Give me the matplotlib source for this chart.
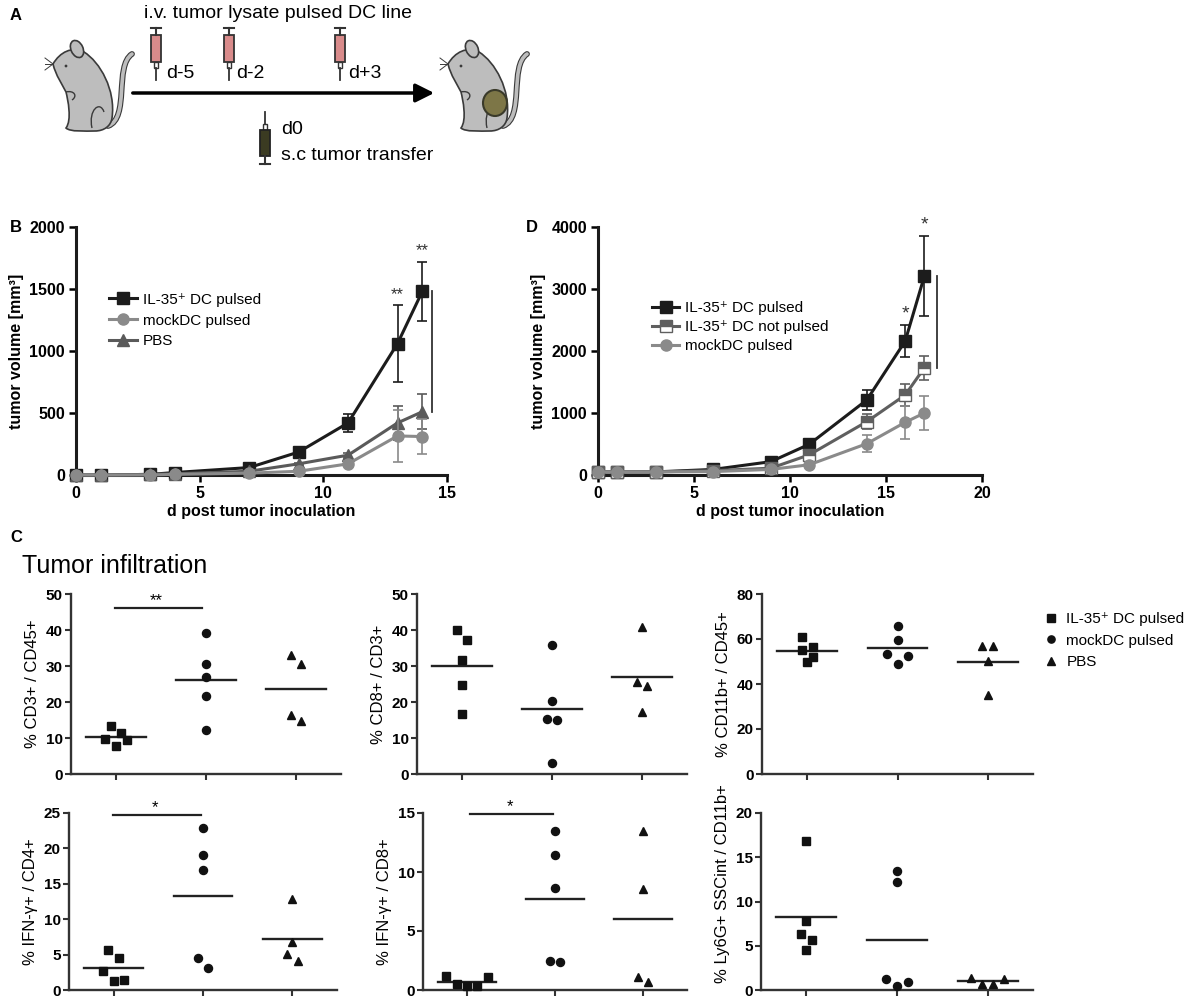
import numpy as np
import matplotlib
matplotlib.use("Agg")
import matplotlib.pyplot as plt
from matplotlib.patches import Ellipse, Rectangle, PathPatch, Circle
from matplotlib.path import Path
from matplotlib.lines import Line2D

plt.rcParams['font.family'] = ['Liberation Sans', 'DejaVu Sans']

# ---- data: panel B (tumor volume, mm3) ----
days_b = [0, 1, 3, 4, 7, 9, 11, 13, 14]
b_il35 = [0, 0, 5, 20, 60, 185, 420, 1060, 1480]
b_il35_err = [0, 0, 0, 5, 10, 20, 70, 310, 240]
b_mock = [0, 0, 0, 5, 15, 30, 90, 315, 310]
b_mock_err = [0, 0, 0, 0, 5, 10, 20, 210, 140]
b_pbs = [0, 0, 5, 10, 30, 90, 160, 420, 510]
b_pbs_err = [0, 0, 0, 0, 5, 10, 20, 137, 143]

# ---- data: panel D ----
days_d = [0, 1, 3, 6, 9, 11, 14, 16, 17]
d_il35 = [50, 50, 50, 90, 215, 495, 1210, 2160, 3210]
d_il35_err = [0, 0, 0, 10, 20, 50, 160, 260, 650]
d_notp = [50, 50, 50, 70, 110, 325, 860, 1290, 1730]
d_notp_err = [0, 0, 0, 5, 10, 30, 120, 180, 195]
d_mock = [50, 50, 50, 55, 90, 165, 505, 850, 1000]
d_mock_err = [0, 0, 0, 5, 10, 20, 135, 270, 280]

# ---- data: panel C (IL-35+ DC pulsed, mockDC pulsed, PBS) ----
groups = ['IL-35\u207a DC pulsed', 'mockDC pulsed', 'PBS']
cd3_cd45 = [[13.2, 11.3, 9.6, 9.5, 7.8], [39.2, 30.5, 26.9, 21.6, 12.3], [33.0, 30.5, 16.5, 14.6]]
cd8_cd3 = [[39.9, 37.3, 31.6, 24.7, 16.6], [35.9, 20.2, 15.3, 15.1, 3.1], [40.8, 25.5, 24.5, 17.2]]
cd11b_cd45 = [[60.7, 56.3, 55.3, 52.0, 49.6], [65.9, 59.7, 53.3, 52.3, 48.7], [56.7, 56.7, 50.1, 35.3]]
ifng_cd4 = [[5.6, 4.5, 2.7, 1.4, 1.3], [22.9, 19.0, 17.0, 4.5, 3.1], [12.9, 6.8, 5.1, 4.1]]
ifng_cd8 = [[1.2, 1.1, 0.55, 0.35, 0.35], [13.5, 11.4, 8.65, 2.5, 2.4], [13.5, 8.6, 1.1, 0.7]]
ly6g_cd11b = [[16.8, 7.8, 6.3, 5.7, 4.5], [13.5, 12.2, 1.2, 0.9, 0.4], [1.4, 1.2, 0.66, 0.66]]

W, H = 1192, 998
fig = plt.figure(figsize=(W / 100, H / 100), dpi=100)


def ax_px(l, t, r, b):
    return fig.add_axes([l / W, 1 - b / H, (r - l) / W, (b - t) / H])


# ================= panel A (schematic) =================
axA = ax_px(0, 0, 560, 190)
axA.set_xlim(0, 560)
axA.set_ylim(190, 0)
axA.axis('off')

MOUSE_FC = '#bdbdbd'
MOUSE_EC = '#3a3a3a'


def draw_mouse(ax, dx, tumor=False):
    # tail
    tail = [(108 + dx, 126), (130 + dx, 118), (114 + dx, 66), (132 + dx, 54)]
    tp = Path(tail, [Path.MOVETO, Path.CURVE4, Path.CURVE4, Path.CURVE4])
    ax.add_patch(PathPatch(tp, fill=False, lw=4.2, ec=MOUSE_EC, capstyle='round'))
    ax.add_patch(PathPatch(tp, fill=False, lw=2.6, ec=MOUSE_FC, capstyle='round'))
    verts = [(53, 64),
             (60, 52), (72, 46), (84, 52),
             (100, 62), (116, 90), (112, 118),
             (111, 126), (104, 131), (95, 131),
             (85, 131), (70, 132), (66, 128),
             (72, 120), (68, 100), (66, 92),
             (62, 84), (56, 76), (53, 64)]
    verts = [(x + dx, y) for x, y in verts]
    codes = [Path.MOVETO] + [Path.CURVE4] * 18
    ax.add_patch(PathPatch(Path(verts, codes), fc=MOUSE_FC, ec=MOUSE_EC, lw=1.2))
    ax.add_patch(Ellipse((77 + dx, 49), 12, 18, angle=-25, fc=MOUSE_FC, ec=MOUSE_EC, lw=1.2))
    # haunch and paw lines
    hp = Path([(92 + dx, 128), (88 + dx, 110), (100 + dx, 100), (104 + dx, 112)],
              [Path.MOVETO, Path.CURVE4, Path.CURVE4, Path.CURVE4])
    ax.add_patch(PathPatch(hp, fill=False, ec=MOUSE_EC, lw=1.0))
    pp = Path([(66 + dx, 92), (74 + dx, 90), (78 + dx, 96), (72 + dx, 100)],
              [Path.MOVETO, Path.CURVE4, Path.CURVE4, Path.CURVE4])
    ax.add_patch(PathPatch(pp, fill=False, ec=MOUSE_EC, lw=1.0))
    ax.add_patch(Circle((66 + dx, 66), 1.4, fc=MOUSE_EC, ec='none'))
    for dy in (-3, 0, 3):
        ax.plot([53 + dx, 45 + dx], [64, 64 + dy * 2], color=MOUSE_EC, lw=0.7)
    if tumor:
        ax.add_patch(Ellipse((100 + dx, 103), 24, 26, fc='#7d7647', ec='#3a3a2a', lw=1.5))


draw_mouse(axA, 0)
draw_mouse(axA, 395, tumor=True)


def syringe_down(ax, x, color):
    ax.plot([x - 5, x + 5], [28, 28], color='#333333', lw=1.5)
    ax.plot([x, x], [28, 35], color='#333333', lw=1.5)
    ax.add_patch(Rectangle((x - 5, 35), 10, 27, fc=color, ec='#333333', lw=1.3))
    ax.add_patch(Rectangle((x - 2, 62), 4, 6, fc='white', ec='#333333', lw=1.0))
    ax.plot([x, x], [68, 80], color='#333333', lw=1.3)


def syringe_up(ax, x, color):
    ax.plot([x, x], [112, 124], color='#333333', lw=1.3)
    ax.add_patch(Rectangle((x - 2, 124), 4, 6, fc='white', ec='#333333', lw=1.0))
    ax.add_patch(Rectangle((x - 5, 130), 10, 26, fc=color, ec='#222222', lw=1.3))
    ax.plot([x, x], [156, 164], color='#333333', lw=1.5)
    ax.plot([x - 5, x + 5], [164, 164], color='#333333', lw=1.5)


for sx in (156, 229, 340):
    syringe_down(axA, sx, '#d98b8b')
syringe_up(axA, 265, '#3b3b22')

axA.annotate('', xy=(437, 93), xytext=(130, 93),
             arrowprops=dict(arrowstyle='-|>', lw=2.5, color='black', mutation_scale=28))
axA.text(278, 13, 'i.v. tumor lysate pulsed DC line', ha='center', va='center', fontsize=14)
for sx, lab in zip((166, 236, 348), ('d-5', 'd-2', 'd+3')):
    axA.text(sx, 73, lab, ha='left', va='center', fontsize=14)
axA.text(281, 130, 'd0', ha='left', va='center', fontsize=14)
axA.text(281, 155, 's.c tumor transfer', ha='left', va='center', fontsize=14)

fig.text(10 / W, 1 - 16 / H, 'A', fontsize=12, fontweight='bold', va='center')
fig.text(10 / W, 1 - 228 / H, 'B', fontsize=12, fontweight='bold', va='center')
fig.text(526 / W, 1 - 228 / H, 'D', fontsize=12, fontweight='bold', va='center')
fig.text(10 / W, 1 - 538 / H, 'C', fontsize=12, fontweight='bold', va='center')
fig.text(22 / W, 1 - 566 / H, 'Tumor infiltration', fontsize=18, va='center')

C_IL35 = '#1c1c1c'
C_NOTP = '#5f5f5f'
C_PBS = '#5a5a5a'
C_MOCK = '#8a8a8a'


def style_growth(ax, xt, yt):
    for s in ('top', 'right'):
        ax.spines[s].set_visible(False)
    for s in ('left', 'bottom'):
        ax.spines[s].set_linewidth(2.2)
        ax.spines[s].set_color('#1c1c1c')
    ax.set_xticks(xt)
    ax.set_yticks(yt)
    ax.tick_params(direction='out', length=5, width=1.8, labelsize=11.5, pad=3)
    plt.setp(ax.get_xticklabels() + ax.get_yticklabels(), fontweight='bold')
    ax.set_ylabel('tumor volume [mm\u00b3]', fontsize=11.5, fontweight='bold')
    ax.set_xlabel('d post tumor inoculation', fontsize=11.5, fontweight='bold', labelpad=2)


ekw = dict(lw=2.2, ms=8, capsize=3.5, elinewidth=1.2, capthick=1.2, clip_on=False)
lkw = dict(loc='upper left', frameon=False, fontsize=11, handlelength=1.8, handletextpad=0.4,
           borderpad=0, borderaxespad=0)


def leg_line(color, marker, **kw):
    return Line2D([], [], color=color, marker=marker, lw=2.2, ms=8, **kw)


# ================= panel B =================
axB = ax_px(76, 227, 447, 475)
axB.errorbar(days_b, b_il35, yerr=b_il35_err, fmt='s-', color=C_IL35, zorder=3, **ekw)
axB.errorbar(days_b, b_pbs, yerr=b_pbs_err, fmt='^-', color=C_PBS, zorder=4, **ekw)
axB.errorbar(days_b, b_mock, yerr=b_mock_err, fmt='o-', color=C_MOCK, zorder=5, **ekw)
axB.set_xlim(0, 15)
axB.set_ylim(0, 2000)
style_growth(axB, [0, 5, 10, 15], [0, 500, 1000, 1500, 2000])
axB.plot([14.4, 14.4], [b_pbs[-1], b_il35[-1]], color='#333333', lw=1.3)
for i in (7, 8):
    axB.text(days_b[i], b_il35[i] + b_il35_err[i] + 25, '**', ha='center', va='bottom',
             fontsize=12, color='#333333')
axB.legend([leg_line(C_IL35, 's'), leg_line(C_MOCK, 'o'), leg_line(C_PBS, '^')],
           ['IL-35\u207a DC pulsed', 'mockDC pulsed', 'PBS'],
           bbox_to_anchor=(0.09, 0.735), labelspacing=0.45, **lkw)

# ================= panel D =================
axD = ax_px(598, 227, 982, 475)
axD.errorbar(days_d, d_il35, yerr=d_il35_err, fmt='s-', color=C_IL35, zorder=3, **ekw)
axD.errorbar(days_d, d_notp, yerr=d_notp_err, fmt='s-', color=C_NOTP, zorder=4,
             fillstyle='top', markerfacecoloralt='white', **ekw)
axD.errorbar(days_d, d_mock, yerr=d_mock_err, fmt='o-', color=C_MOCK, zorder=5, **ekw)
axD.set_xlim(0, 20)
axD.set_ylim(0, 4000)
style_growth(axD, [0, 5, 10, 15, 20], [0, 1000, 2000, 3000, 4000])
axD.plot([17.65, 17.65], [d_notp[-1], d_il35[-1]], color='#333333', lw=1.3)
for i in (7, 8):
    axD.text(days_d[i], d_il35[i] + d_il35_err[i] + 40, '*', ha='center', va='bottom',
             fontsize=14, color='#333333')
axD.legend([leg_line(C_IL35, 's'),
            leg_line(C_NOTP, 's', fillstyle='top', markerfacecoloralt='white'),
            leg_line(C_MOCK, 'o')],
           ['IL-35\u207a DC pulsed', 'IL-35\u207a DC not pulsed', 'mockDC pulsed'],
           bbox_to_anchor=(0.14, 0.70), labelspacing=0.33, **lkw)


# ================= panel C =================
def swarm_offsets(vals, px_per_unit, bin_px=11.0, w=10.7):
    # group points of similar height into rows, spread each row symmetrically
    order = list(np.argsort(vals)[::-1])
    offs = [0.0] * len(vals)
    bins = []
    for i in order:
        if bins and (vals[bins[-1][0]] - vals[i]) * px_per_unit < bin_px:
            bins[-1].append(i)
        else:
            bins.append([i])
    for b in bins:
        n = len(b)
        slots = [(j - (n - 1) / 2) * w for j in range(n)]
        slots.sort(key=lambda s: (-abs(s), s))
        for i, s in zip(b, slots):
            offs[i] = s
    return offs


markers = ['s', 'o', '^']
msizes = [5.4, 5.8, 6.2]
CAT_PX = 90.0


def dot_plot(ax, data, ymax, yticks, ylabel, height_px):
    ppu = height_px / ymax
    for k, vals in enumerate(data):
        offs = swarm_offsets(vals, ppu)
        xs = [k + o / CAT_PX for o in offs]
        ax.plot(xs, vals, ls='', marker=markers[k], ms=msizes[k], color='#111111',
                mec='#111111', clip_on=False, zorder=3)
        m = np.mean(vals)
        ax.plot([k - 0.33, k + 0.33], [m, m], color='#222222', lw=1.7, zorder=2)
    ax.set_xlim(-0.5, 2.5)
    ax.set_ylim(0, ymax)
    ax.set_xticks([0, 1, 2])
    ax.set_xticklabels([])
    ax.set_yticks(yticks)
    for s in ('top', 'right'):
        ax.spines[s].set_visible(False)
    for s in ('left', 'bottom'):
        ax.spines[s].set_linewidth(1.7)
        ax.spines[s].set_color('#333333')
    ax.tick_params(direction='out', length=4, width=1.5, labelsize=11, pad=2, color='#333333')
    plt.setp(ax.get_yticklabels(), fontweight='bold')
    ax.set_ylabel(ylabel, fontsize=12)


def sig_bar(ax, x0, x1, y, txt):
    ax.plot([x0, x1], [y, y], color='#222222', lw=1.6, clip_on=False)
    ax.text((x0 + x1) / 2 - 0.02, y, txt, ha='center', va='bottom', fontsize=12)


c1 = ax_px(71, 594, 341, 774)
dot_plot(c1, cd3_cd45, 50, [0, 10, 20, 30, 40, 50], '% CD3+ / CD45+', 180)
sig_bar(c1, -0.01, 0.95, 46, '**')

c2 = ax_px(417, 594, 687, 774)
dot_plot(c2, cd8_cd3, 50, [0, 10, 20, 30, 40, 50], '% CD8+ / CD3+', 180)

c3 = ax_px(762, 594, 1033, 774)
dot_plot(c3, cd11b_cd45, 80, [0, 20, 40, 60, 80], '% CD11b+ / CD45+', 180)

c4 = ax_px(69, 813, 337, 990)
dot_plot(c4, ifng_cd4, 25, [0, 5, 10, 15, 20, 25], '% IFN-\u03b3+ / CD4+', 177)
sig_bar(c4, -0.01, 0.98, 24.7, '*')

c5 = ax_px(423, 813, 687, 990)
dot_plot(c5, ifng_cd8, 15, [0, 5, 10, 15], '% IFN-\u03b3+ / CD8+', 177)
sig_bar(c5, 0.03, 0.98, 14.9, '*')

c6 = ax_px(761, 813, 1033, 990)
dot_plot(c6, ly6g_cd11b, 20, [0, 5, 10, 15, 20], '% Ly6G+ SSCint / CD11b+', 177)
c6.yaxis.set_label_coords(-0.115, 0.6)

leg_handles = [Line2D([], [], ls='', marker=m, ms=5.2, color='#111111') for m in markers]
c3.legend(leg_handles, groups, loc='upper left', bbox_to_anchor=(1045 / W, 1 - 612 / H),
          bbox_transform=fig.transFigure, frameon=False, fontsize=11, handlelength=0.8,
          handletextpad=0.6, labelspacing=0.5, borderpad=0, borderaxespad=0)

fig.savefig('out.png', dpi=100)
